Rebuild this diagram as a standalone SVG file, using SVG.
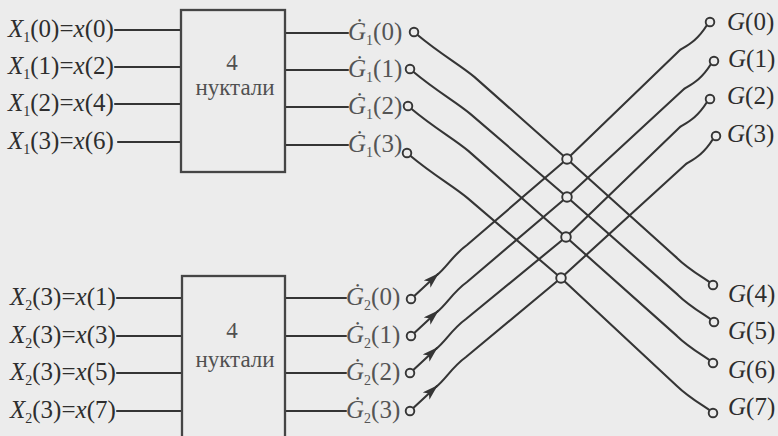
<svg xmlns="http://www.w3.org/2000/svg" width="778" height="436" viewBox="0 0 778 436">
<style>
.bg{fill:#ececec}
.lbl{font-family:"Liberation Serif","Times New Roman",serif;font-size:25px;fill:#2e2e2e}
.glbl{font-family:"Liberation Serif","Times New Roman",serif;font-size:25px;fill:#555}
.btxt{font-family:"Liberation Serif","Times New Roman",serif;font-size:23px;fill:#505050;text-anchor:middle}
.it{font-style:italic}
.sub{font-size:14px}
.wire{stroke:#353535;stroke-width:2.1;fill:none;stroke-linecap:round;stroke-linejoin:round}
.box{fill:none;stroke:#454545;stroke-width:2.3}
.pin{fill:#ececec;stroke:#353535;stroke-width:1.9}
</style>
<defs>
<marker id="arr" viewBox="0 0 16 10" refX="15" refY="5" markerWidth="16" markerHeight="10" markerUnits="userSpaceOnUse" orient="auto">
<path d="M0,0 L16,5 L0,10 L4,5 z" fill="#353535"/>
</marker>
</defs>
<rect class="bg" x="0" y="0" width="778" height="436"/>

<g id="connectors">
<path class="wire" d="M115,30 H181 M115,67 H181 M115,104 H181 M118,142 H181"/>
<path class="wire" d="M117,298 H182 M117,336 H182 M117,373 H182 M117,411 H182"/>
<path class="wire" d="M285,33 H348 M285,70 H348 M285,107 H348 M285,145 H348"/>
<path class="wire" d="M285,298 H346 M285,336 H346 M285,373 H346 M285,411 H346"/>
<path class="wire" d="M417,34.5 c24.2,20.2 42.2,29.8 57.6,42.6 L567,159 L676.9,257.9 c10.8,10.5 24.8,18.8 33,24.5"/>
<path class="wire" d="M413,71.5 c24.2,20.2 42.2,29.8 57.6,42.6 L567,197 L677.9,294.9 c10.8,10.5 24.8,18.8 33,24.5"/>
<path class="wire" d="M411,108.5 c24.2,20.2 42.2,29.8 57.6,42.6 L566,237 L676.9,335.9 c10.8,10.5 24.8,18.8 33,24.5"/>
<path class="wire" d="M410,155.5 c24.2,20.2 42.2,29.8 57.6,42.6 L561,278 L676.9,385.9 c10.8,10.5 24.8,18.8 33,24.5"/>
<path class="wire" d="M414,296.3 L438,274" marker-end="url(#arr)"/>
<path class="wire" d="M437,275 c10,-8 16,-20 30,-30 L567,159 L680,50 c8,-5 17,-9 27,-25"/>
<path class="wire" d="M414,333.3 L438,311" marker-end="url(#arr)"/>
<path class="wire" d="M437,312 c10,-8 16,-20 30,-30 L567,197 L684,89 c8,-5 17,-9 27,-25"/>
<path class="wire" d="M413,370.3 L437,348" marker-end="url(#arr)"/>
<path class="wire" d="M436,349 c10,-8 16,-20 30,-30 L566,237 L680,127 c8,-5 17,-9 27,-25"/>
<path class="wire" d="M413,408.3 L437,386" marker-end="url(#arr)"/>
<path class="wire" d="M436,387 c10,-8 16,-20 30,-30 L561,278 L686,164 c8,-5 17,-9 27,-25"/>
</g>

<g id="block1">
<rect class="box" x="181" y="10" width="104" height="162"/>
<text class="btxt" x="232" y="70">4</text>
<text class="btxt" x="235" y="95">нуктали</text>
</g>
<g id="block2">
<rect class="box" x="182" y="276" width="103" height="190"/>
<text class="btxt" x="232" y="338">4</text>
<text class="btxt" x="235" y="367">нуктали</text>
</g>

<g id="inputs1">
<text class="lbl" x="8" y="37"><tspan class="it">X</tspan><tspan class="sub" dy="5">1</tspan><tspan dy="-5">(0)=</tspan><tspan class="it">x</tspan>(0)</text>
<text class="lbl" x="8" y="74"><tspan class="it">X</tspan><tspan class="sub" dy="5">1</tspan><tspan dy="-5">(1)=</tspan><tspan class="it">x</tspan>(2)</text>
<text class="lbl" x="8" y="111"><tspan class="it">X</tspan><tspan class="sub" dy="5">1</tspan><tspan dy="-5">(2)=</tspan><tspan class="it">x</tspan>(4)</text>
<text class="lbl" x="8" y="149"><tspan class="it">X</tspan><tspan class="sub" dy="5">1</tspan><tspan dy="-5">(3)=</tspan><tspan class="it">x</tspan>(6)</text>
</g>
<g id="inputs2">
<text class="lbl" x="10" y="305"><tspan class="it">X</tspan><tspan class="sub" dy="5">2</tspan><tspan dy="-5">(3)=</tspan><tspan class="it">x</tspan>(1)</text>
<text class="lbl" x="10" y="343"><tspan class="it">X</tspan><tspan class="sub" dy="5">2</tspan><tspan dy="-5">(3)=</tspan><tspan class="it">x</tspan>(3)</text>
<text class="lbl" x="10" y="380"><tspan class="it">X</tspan><tspan class="sub" dy="5">2</tspan><tspan dy="-5">(3)=</tspan><tspan class="it">x</tspan>(5)</text>
<text class="lbl" x="10" y="418"><tspan class="it">X</tspan><tspan class="sub" dy="5">2</tspan><tspan dy="-5">(3)=</tspan><tspan class="it">x</tspan>(7)</text>
</g>

<g id="g1-outputs">
<text class="glbl" x="348" y="40"><tspan class="it">Ġ</tspan><tspan class="sub" dy="5">1</tspan><tspan dy="-5">(0)</tspan></text>
<text class="glbl" x="348" y="77"><tspan class="it">Ġ</tspan><tspan class="sub" dy="5">1</tspan><tspan dy="-5">(1)</tspan></text>
<text class="glbl" x="348" y="114"><tspan class="it">Ġ</tspan><tspan class="sub" dy="5">1</tspan><tspan dy="-5">(2)</tspan></text>
<text class="glbl" x="348" y="152"><tspan class="it">Ġ</tspan><tspan class="sub" dy="5">1</tspan><tspan dy="-5">(3)</tspan></text>
<circle class="pin" cx="414" cy="32" r="4.3"/>
<circle class="pin" cx="410" cy="69" r="4.3"/>
<circle class="pin" cx="408" cy="106" r="4.3"/>
<circle class="pin" cx="407" cy="153" r="4.3"/>
</g>
<g id="g2-outputs">
<text class="glbl" x="346" y="305"><tspan class="it">Ġ</tspan><tspan class="sub" dy="5">2</tspan><tspan dy="-5">(0)</tspan></text>
<text class="glbl" x="346" y="343"><tspan class="it">Ġ</tspan><tspan class="sub" dy="5">2</tspan><tspan dy="-5">(1)</tspan></text>
<text class="glbl" x="346" y="380"><tspan class="it">Ġ</tspan><tspan class="sub" dy="5">2</tspan><tspan dy="-5">(2)</tspan></text>
<text class="glbl" x="346" y="418"><tspan class="it">Ġ</tspan><tspan class="sub" dy="5">2</tspan><tspan dy="-5">(3)</tspan></text>
<circle class="pin" cx="411" cy="299" r="4.3"/>
<circle class="pin" cx="411" cy="336" r="4.3"/>
<circle class="pin" cx="410" cy="373" r="4.3"/>
<circle class="pin" cx="410" cy="411" r="4.3"/>
</g>

<g id="junctions">
<circle class="pin" cx="567" cy="159" r="4.8"/>
<circle class="pin" cx="567" cy="197" r="4.8"/>
<circle class="pin" cx="566" cy="237" r="4.8"/>
<circle class="pin" cx="561" cy="278" r="4.8"/>
</g>

<g id="outputs">
<circle class="pin" cx="710" cy="22" r="4.3"/>
<circle class="pin" cx="714" cy="61" r="4.3"/>
<circle class="pin" cx="710" cy="99" r="4.3"/>
<circle class="pin" cx="716" cy="136" r="4.3"/>
<circle class="pin" cx="713" cy="285" r="4.3"/>
<circle class="pin" cx="714" cy="322" r="4.3"/>
<circle class="pin" cx="713" cy="363" r="4.3"/>
<circle class="pin" cx="713" cy="413" r="4.3"/>
<text class="lbl" x="727" y="30"><tspan class="it">G</tspan>(0)</text>
<text class="lbl" x="728" y="67"><tspan class="it">G</tspan>(1)</text>
<text class="lbl" x="727" y="104"><tspan class="it">G</tspan>(2)</text>
<text class="lbl" x="727" y="142"><tspan class="it">G</tspan>(3)</text>
<text class="lbl" x="728" y="302"><tspan class="it">G</tspan>(4)</text>
<text class="lbl" x="728" y="339"><tspan class="it">G</tspan>(5)</text>
<text class="lbl" x="728" y="378"><tspan class="it">G</tspan>(6)</text>
<text class="lbl" x="728" y="415"><tspan class="it">G</tspan>(7)</text>
</g>
</svg>
